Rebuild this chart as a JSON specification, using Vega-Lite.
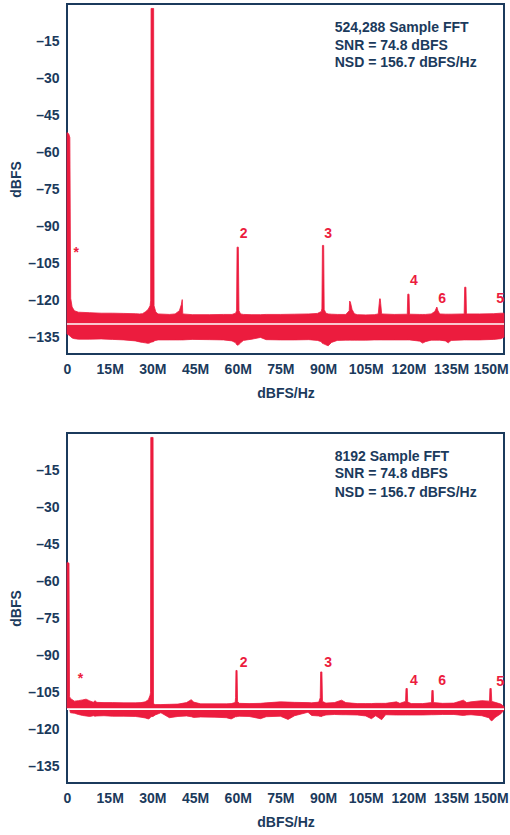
{
  "$schema": "https://vega.github.io/schema/vega-lite/v6.json",
  "padding": {"left": 8, "top": 3, "right": 0, "bottom": 0},
  "background": "white",
  "spacing": 79,
  "bounds": "flush",
  "config": {
    "view": {"stroke": "#1b3a5c", "strokeWidth": 2},
    "axis": {
      "labelFont": "Liberation Sans", "labelFontWeight": "bold", "labelFontSize": 14, "labelColor": "#1b3a5c",
      "titleFont": "Liberation Sans", "titleFontWeight": "bold", "titleFontSize": 14, "titleColor": "#1b3a5c",
      "gridColor": "#b4c8d4", "gridWidth": 2, "gridOpacity": 1, "ticks": false, "tickSize": 0, "domain": false,
      "labelPadding": 8
    },
    "axisX": {"titlePadding": 10, "labelFlush": false},
    "axisY": {"titlePadding": 4},
    "text": {"font": "Liberation Sans", "fontWeight": "bold", "fontSize": 14}
  },
  "datasets": {
    "top": [
      {"f": 0, "db": -52, "lo": -133.4},
      {"f": 0.6, "db": -52.5, "lo": -133.8},
      {"f": 1.0, "db": -54, "lo": -134.2},
      {"f": 1.3, "db": -119, "lo": -134.5},
      {"f": 1.8, "db": -122.5, "lo": -135},
      {"f": 2.6, "db": -124, "lo": -135.3},
      {"f": 4, "db": -124.6, "lo": -135.5},
      {"f": 8, "db": -124.8, "lo": -135.5},
      {"f": 12, "db": -125, "lo": -135.4},
      {"f": 16, "db": -125, "lo": -135.6},
      {"f": 20, "db": -125.1, "lo": -135.8},
      {"f": 24, "db": -125.2, "lo": -136.2},
      {"f": 25.5, "db": -125.3, "lo": -136.6},
      {"f": 26.5, "db": -125.2, "lo": -136.8},
      {"f": 27.5, "db": -124.5, "lo": -137},
      {"f": 28.5, "db": -123.5, "lo": -137.2},
      {"f": 29.2, "db": -122, "lo": -137},
      {"f": 29.4, "db": -120, "lo": -136.8},
      {"f": 29.55, "db": -1.8, "lo": -136.7},
      {"f": 30.45, "db": -1.8, "lo": -136.5},
      {"f": 30.6, "db": -122, "lo": -136.2},
      {"f": 31.2, "db": -124.5, "lo": -136},
      {"f": 32, "db": -125.3, "lo": -135.8},
      {"f": 36, "db": -125.5, "lo": -135.8},
      {"f": 38, "db": -125.3, "lo": -135.8},
      {"f": 39.5, "db": -124, "lo": -135.8},
      {"f": 40.2, "db": -121.5, "lo": -135.8},
      {"f": 40.5, "db": -119.5, "lo": -135.8},
      {"f": 40.7, "db": -125.3, "lo": -135.8},
      {"f": 44, "db": -125.6, "lo": -135.6},
      {"f": 50, "db": -125.6, "lo": -135.7},
      {"f": 55, "db": -125.5, "lo": -135.8},
      {"f": 58, "db": -125.5, "lo": -136.2},
      {"f": 59.3, "db": -125, "lo": -137},
      {"f": 59.6, "db": -124, "lo": -137.7},
      {"f": 59.78, "db": -98.3, "lo": -137.9},
      {"f": 60.22, "db": -98.3, "lo": -137.9},
      {"f": 60.45, "db": -124, "lo": -137.6},
      {"f": 61, "db": -125.3, "lo": -137},
      {"f": 62, "db": -125.5, "lo": -136},
      {"f": 65, "db": -125.6, "lo": -135.5},
      {"f": 68, "db": -125.6, "lo": -134.8},
      {"f": 70, "db": -125.5, "lo": -135.7},
      {"f": 75, "db": -125.5, "lo": -135.8},
      {"f": 80, "db": -125.4, "lo": -135.8},
      {"f": 85, "db": -125.3, "lo": -135.7},
      {"f": 88, "db": -125.1, "lo": -136},
      {"f": 89.4, "db": -124.3, "lo": -136.5},
      {"f": 89.6, "db": -123, "lo": -137},
      {"f": 89.78, "db": -97.6, "lo": -137.2},
      {"f": 90.22, "db": -97.6, "lo": -137.4},
      {"f": 90.4, "db": -123.5, "lo": -137.5},
      {"f": 91, "db": -125, "lo": -137.8},
      {"f": 91.8, "db": -125.3, "lo": -138.2},
      {"f": 93, "db": -125.4, "lo": -136.8},
      {"f": 95, "db": -125.5, "lo": -136},
      {"f": 98, "db": -125.5, "lo": -135.9},
      {"f": 99.2, "db": -124, "lo": -135.9},
      {"f": 99.35, "db": -120.1, "lo": -135.9},
      {"f": 99.6, "db": -120.5, "lo": -135.9},
      {"f": 100.2, "db": -123.5, "lo": -135.9},
      {"f": 101, "db": -125.2, "lo": -135.9},
      {"f": 102, "db": -125.6, "lo": -135.9},
      {"f": 105, "db": -125.7, "lo": -135.9},
      {"f": 108, "db": -125.6, "lo": -135.8},
      {"f": 109.4, "db": -125.3, "lo": -135.8},
      {"f": 109.75, "db": -121, "lo": -135.8},
      {"f": 109.9, "db": -119.2, "lo": -135.8},
      {"f": 110.1, "db": -119.2, "lo": -135.8},
      {"f": 110.25, "db": -121, "lo": -135.8},
      {"f": 110.6, "db": -125.3, "lo": -135.8},
      {"f": 115, "db": -125.5, "lo": -135.8},
      {"f": 119.6, "db": -125.4, "lo": -135.8},
      {"f": 119.78, "db": -117.3, "lo": -135.8},
      {"f": 120.22, "db": -117.3, "lo": -135.8},
      {"f": 120.4, "db": -125.4, "lo": -135.8},
      {"f": 124, "db": -125.5, "lo": -136.3},
      {"f": 125, "db": -125.5, "lo": -137.1},
      {"f": 126, "db": -125.5, "lo": -136.5},
      {"f": 128, "db": -125.3, "lo": -135.9},
      {"f": 129.3, "db": -124.3, "lo": -135.9},
      {"f": 130, "db": -122.5, "lo": -135.9},
      {"f": 130.4, "db": -124, "lo": -135.9},
      {"f": 131, "db": -125.3, "lo": -135.9},
      {"f": 133, "db": -125.4, "lo": -136.2},
      {"f": 134, "db": -125.4, "lo": -137},
      {"f": 135, "db": -125.4, "lo": -136},
      {"f": 139.6, "db": -125.3, "lo": -135.8},
      {"f": 139.78, "db": -114.5, "lo": -135.8},
      {"f": 140.22, "db": -114.5, "lo": -135.8},
      {"f": 140.4, "db": -125.3, "lo": -135.8},
      {"f": 145, "db": -125.3, "lo": -135.8},
      {"f": 150, "db": -125.2, "lo": -135.6},
      {"f": 152.5, "db": -125, "lo": -135.3},
      {"f": 153.6, "db": -125, "lo": -134.7}
    ],
    "bot": [
      {"f": 0, "db": -52.4, "lo": -111.3},
      {"f": 0.7, "db": -52.6, "lo": -111.3},
      {"f": 0.9, "db": -106.5, "lo": -111.5},
      {"f": 1.2, "db": -107.3, "lo": -113.1},
      {"f": 2.6, "db": -108.4, "lo": -113.3},
      {"f": 4, "db": -108.2, "lo": -113.8},
      {"f": 5.5, "db": -107.9, "lo": -114.2},
      {"f": 6.7, "db": -107.6, "lo": -114.4},
      {"f": 8, "db": -108.3, "lo": -114.6},
      {"f": 9.3, "db": -108.9, "lo": -114.3},
      {"f": 9.8, "db": -108.2, "lo": -114.5},
      {"f": 10.5, "db": -108.9, "lo": -114.4},
      {"f": 13, "db": -109, "lo": -114.3},
      {"f": 16, "db": -109, "lo": -114.5},
      {"f": 20, "db": -109.1, "lo": -114.5},
      {"f": 24, "db": -109.1, "lo": -114.6},
      {"f": 26, "db": -109, "lo": -114.9},
      {"f": 27.5, "db": -108.7, "lo": -115.2},
      {"f": 28.6, "db": -107.8, "lo": -115.6},
      {"f": 29.2, "db": -106, "lo": -115.2},
      {"f": 29.35, "db": -105, "lo": -114.8},
      {"f": 29.45, "db": -1.8, "lo": -114.7},
      {"f": 30.25, "db": -1.8, "lo": -114.6},
      {"f": 30.4, "db": -109.5, "lo": -114.5},
      {"f": 31, "db": -109.8, "lo": -114},
      {"f": 33, "db": -109.8, "lo": -113.1},
      {"f": 36, "db": -109.7, "lo": -115.1},
      {"f": 39, "db": -109.6, "lo": -114.6},
      {"f": 42, "db": -109, "lo": -114.4},
      {"f": 43.7, "db": -107.8, "lo": -114.7},
      {"f": 44.5, "db": -108.8, "lo": -115},
      {"f": 47, "db": -109.5, "lo": -114.8},
      {"f": 52, "db": -109.5, "lo": -114.9},
      {"f": 56, "db": -109.5, "lo": -115.1},
      {"f": 57.7, "db": -109.4, "lo": -115.6},
      {"f": 59.1, "db": -109, "lo": -114.8},
      {"f": 59.25, "db": -107, "lo": -114.7},
      {"f": 59.38, "db": -96, "lo": -114.7},
      {"f": 59.78, "db": -96, "lo": -114.7},
      {"f": 59.95, "db": -108.5, "lo": -114.6},
      {"f": 60.5, "db": -109.3, "lo": -114.5},
      {"f": 64, "db": -109.4, "lo": -114.6},
      {"f": 68, "db": -109.3, "lo": -115.5},
      {"f": 70, "db": -109.1, "lo": -114.7},
      {"f": 75, "db": -108.7, "lo": -114.5},
      {"f": 77.7, "db": -108.8, "lo": -115.8},
      {"f": 80, "db": -108.9, "lo": -114.3},
      {"f": 84.7, "db": -109, "lo": -112.9},
      {"f": 86, "db": -109.1, "lo": -114.2},
      {"f": 88.5, "db": -108.8, "lo": -114.4},
      {"f": 89.0, "db": -107, "lo": -114.6},
      {"f": 89.15, "db": -96.6, "lo": -114.6},
      {"f": 89.6, "db": -96.6, "lo": -114.6},
      {"f": 89.8, "db": -108.5, "lo": -114.4},
      {"f": 91, "db": -109.2, "lo": -114},
      {"f": 94, "db": -109, "lo": -113.8},
      {"f": 96.5, "db": -108, "lo": -113.9},
      {"f": 98, "db": -109, "lo": -113.9},
      {"f": 102, "db": -109.4, "lo": -114},
      {"f": 105, "db": -109.4, "lo": -114.4},
      {"f": 107, "db": -109.4, "lo": -115.5},
      {"f": 108.5, "db": -109.3, "lo": -114.3},
      {"f": 110.6, "db": -109.3, "lo": -115.9},
      {"f": 112, "db": -109.3, "lo": -113.9},
      {"f": 115.8, "db": -108.7, "lo": -114},
      {"f": 117, "db": -109.3, "lo": -114},
      {"f": 119.0, "db": -108.5, "lo": -114},
      {"f": 119.15, "db": -103.3, "lo": -114},
      {"f": 119.6, "db": -103.3, "lo": -114},
      {"f": 119.75, "db": -108.8, "lo": -114},
      {"f": 121, "db": -109.4, "lo": -114},
      {"f": 125, "db": -109.4, "lo": -114},
      {"f": 128.1, "db": -109, "lo": -113.9},
      {"f": 128.25, "db": -104.1, "lo": -113.9},
      {"f": 128.7, "db": -104.1, "lo": -113.9},
      {"f": 128.85, "db": -109, "lo": -113.9},
      {"f": 132, "db": -109.3, "lo": -113.8},
      {"f": 136, "db": -109.2, "lo": -113.8},
      {"f": 139.3, "db": -108, "lo": -114.2},
      {"f": 140.5, "db": -109, "lo": -114},
      {"f": 142, "db": -108.7, "lo": -113.9},
      {"f": 145.8, "db": -108.2, "lo": -114.3},
      {"f": 148.5, "db": -108.4, "lo": -115.2},
      {"f": 148.65, "db": -103.3, "lo": -115.8},
      {"f": 149.1, "db": -103.3, "lo": -116.2},
      {"f": 149.3, "db": -108.5, "lo": -116.4},
      {"f": 150.5, "db": -108.9, "lo": -115},
      {"f": 152.5, "db": -109.6, "lo": -113.5},
      {"f": 153.6, "db": -110.6, "lo": -112}
    ],
    "labTop": [
      {"f": 62.1, "db": -92.9, "t": "2"},
      {"f": 91.8, "db": -92.9, "t": "3"},
      {"f": 121.9, "db": -111.8, "t": "4"},
      {"f": 131.9, "db": -119.2, "t": "6"},
      {"f": 152.2, "db": -119.2, "t": "5"},
      {"f": 3.2, "db": -100.8, "t": "*"}
    ],
    "labBot": [
      {"f": 62.1, "db": -93, "t": "2"},
      {"f": 91.8, "db": -93, "t": "3"},
      {"f": 121.9, "db": -100.4, "t": "4"},
      {"f": 131.9, "db": -100.4, "t": "6"},
      {"f": 152.2, "db": -100.6, "t": "5"},
      {"f": 4.7, "db": -99.3, "t": "*"}
    ],
    "infoTop": [
      {"f": 94.1, "db": -9.9, "t": "524,288 Sample FFT"},
      {"f": 94.1, "db": -16.8, "t": "SNR = 74.8 dBFS"},
      {"f": 94.1, "db": -24.0, "t": "NSD = 156.7 dBFS/Hz"}
    ],
    "infoBot": [
      {"f": 94.1, "db": -9.7, "t": "8192 Sample FFT"},
      {"f": 94.1, "db": -16.7, "t": "SNR = 74.8 dBFS"},
      {"f": 94.1, "db": -24.1, "t": "NSD = 156.7 dBFS/Hz"}
    ]
  },
  "vconcat": [
    {
      "width": 437,
      "height": 350,
      "layer": [
        {
          "data": {"values": [{}]},
          "mark": {"type": "rect", "fill": "white"},
          "encoding": {
            "x": {"datum": 92}, "x2": {"datum": 148.2},
            "y": {"datum": -4}, "y2": {"datum": -28.5}
          }
        },
        {
          "data": {"name": "top"},
          "mark": {"type": "area", "color": "#ec1c3e", "opacity": 1, "stroke": "#ec1c3e", "strokeWidth": 0.8},
          "encoding": {
            "x": {"field": "f", "type": "quantitative", "title": "dBFS/Hz",
                  "scale": {"domain": [0, 153.6], "nice": false, "zero": false},
                  "axis": {"values": [0, 15, 30, 45, 60, 75, 90, 105, 120, 135, 150], "labelExpr": "datum.value == 0 ? '0' : datum.value + 'M'",
                           "labelOffset": {"condition": {"test": "datum.value == 150", "value": -3}, "value": 0}}},
            "y": {"field": "db", "type": "quantitative", "title": "dBFS",
                  "scale": {"domain": [-141.5, 0], "nice": false, "zero": false},
                  "axis": {"values": [-135, -120, -105, -90, -75, -60, -45, -30, -15], "labelExpr": "'–' + abs(datum.value)"}},
            "y2": {"field": "lo"}
          }
        },
        {
          "data": {"values": [{}]},
          "mark": {"type": "rule", "color": "white", "strokeWidth": 1.6},
          "encoding": {"y": {"datum": -129.4}}
        },
        {
          "data": {"name": "labTop"},
          "mark": {"type": "text", "color": "#ec1c3e", "baseline": "middle", "align": "center"},
          "encoding": {
            "x": {"field": "f", "type": "quantitative", "title": "dBFS/Hz"},
            "y": {"field": "db", "type": "quantitative", "title": "dBFS"},
            "text": {"field": "t"}
          }
        },
        {
          "data": {"name": "infoTop"},
          "mark": {"type": "text", "color": "#1b3a5c", "baseline": "middle", "align": "left"},
          "encoding": {
            "x": {"field": "f", "type": "quantitative", "title": "dBFS/Hz"},
            "y": {"field": "db", "type": "quantitative", "title": "dBFS"},
            "text": {"field": "t"}
          }
        }
      ]
    },
    {
      "width": 437,
      "height": 350,
      "layer": [
        {
          "data": {"values": [{}]},
          "mark": {"type": "rect", "fill": "white"},
          "encoding": {
            "x": {"datum": 92}, "x2": {"datum": 148.2},
            "y": {"datum": -3}, "y2": {"datum": -27.5}
          }
        },
        {
          "data": {"name": "bot"},
          "mark": {"type": "area", "color": "#ec1c3e", "opacity": 1, "stroke": "#ec1c3e", "strokeWidth": 0.8},
          "encoding": {
            "x": {"field": "f", "type": "quantitative", "title": "dBFS/Hz",
                  "scale": {"domain": [0, 153.6], "nice": false, "zero": false},
                  "axis": {"values": [0, 15, 30, 45, 60, 75, 90, 105, 120, 135, 150], "labelExpr": "datum.value == 0 ? '0' : datum.value + 'M'",
                           "labelOffset": {"condition": {"test": "datum.value == 150", "value": -3}, "value": 0}}},
            "y": {"field": "db", "type": "quantitative", "title": "dBFS",
                  "scale": {"domain": [-141.5, 0], "nice": false, "zero": false},
                  "axis": {"values": [-135, -120, -105, -90, -75, -60, -45, -30, -15], "labelExpr": "'–' + abs(datum.value)"}},
            "y2": {"field": "lo"}
          }
        },
        {
          "data": {"values": [{}]},
          "mark": {"type": "rule", "color": "white", "strokeWidth": 1.8},
          "encoding": {"y": {"datum": -111.6}}
        },
        {
          "data": {"name": "labBot"},
          "mark": {"type": "text", "color": "#ec1c3e", "baseline": "middle", "align": "center"},
          "encoding": {
            "x": {"field": "f", "type": "quantitative", "title": "dBFS/Hz"},
            "y": {"field": "db", "type": "quantitative", "title": "dBFS"},
            "text": {"field": "t"}
          }
        },
        {
          "data": {"name": "infoBot"},
          "mark": {"type": "text", "color": "#1b3a5c", "baseline": "middle", "align": "left"},
          "encoding": {
            "x": {"field": "f", "type": "quantitative", "title": "dBFS/Hz"},
            "y": {"field": "db", "type": "quantitative", "title": "dBFS"},
            "text": {"field": "t"}
          }
        }
      ]
    }
  ]
}
